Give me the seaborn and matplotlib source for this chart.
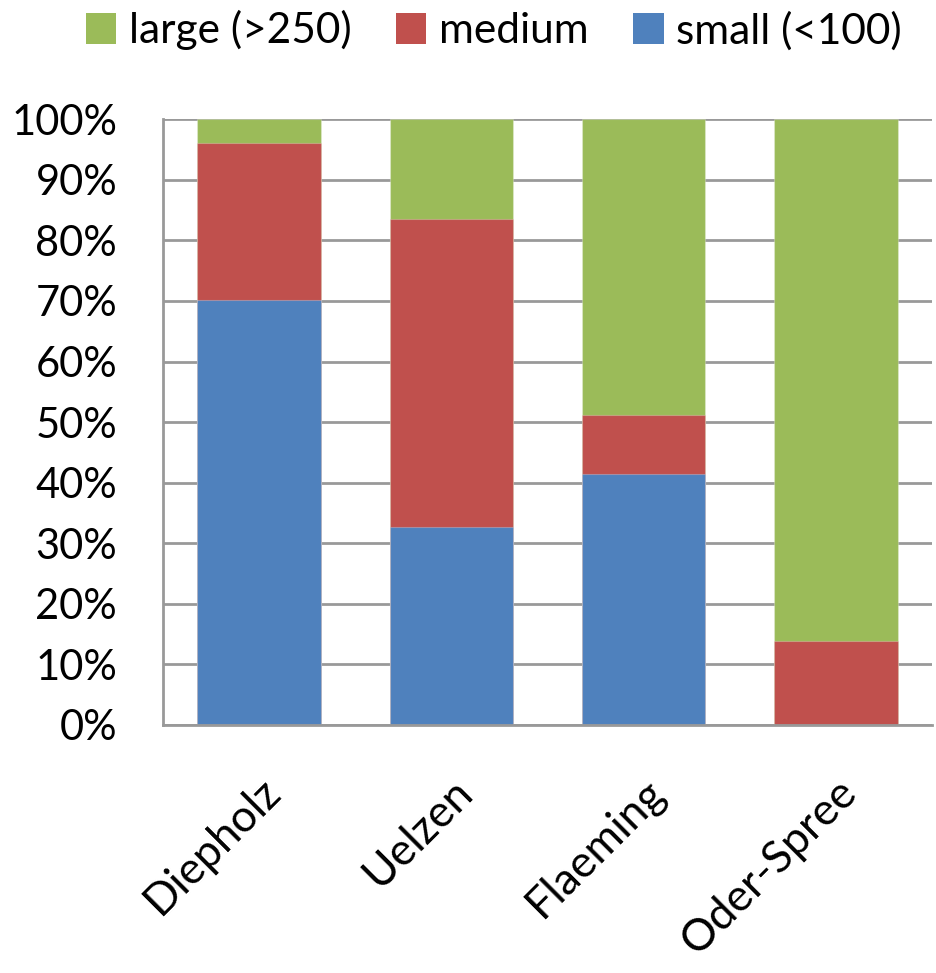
import matplotlib
matplotlib.use("Agg")
import matplotlib.pyplot as plt
from matplotlib.patches import Patch
import seaborn as sns
import pandas as pd
import numpy as np

# Share of farms by size class in each district (percent)
districts = ["Diepholz", "Uelzen", "Flaeming", "Oder-Spree"]
small = [70.2, 32.7, 41.4, 0.0]
medium = [25.9, 50.8, 9.8, 13.9]
large = [3.9, 16.5, 48.8, 86.1]

series_names = ["small (<100)", "medium", "large (>250)"]
colors = {"small (<100)": "#4F81BD", "medium": "#C0504D", "large (>250)": "#9BBB59"}

sns.set_theme(style="white")
plt.rcParams["font.family"] = ["Lato", "DejaVu Sans"]
plt.rcParams["text.color"] = "black"
plt.rcParams["xtick.color"] = "black"
plt.rcParams["ytick.color"] = "black"

df = pd.DataFrame({"district": districts, "small (<100)": small,
                   "medium": medium, "large (>250)": large})
# cumulative tops for stacking
cum = df[series_names].cumsum(axis=1)

fig = plt.figure(figsize=(9.37, 9.73), dpi=100)
ax = fig.add_axes([0.174, 0.2549, 0.8207, 0.6225])

# draw from the tallest cumulative layer downwards so each layer shows
for name in reversed(series_names):
    sns.barplot(x=df["district"], y=cum[name], color=colors[name],
                width=0.643, saturation=1, ax=ax, linewidth=0.8,
                edgecolor="#ffffff40")

ax.set_ylim(0, 100)
ax.set_xlim(-0.5, len(districts) - 0.5)
ax.set_yticks(np.arange(0, 101, 10))
ax.set_yticklabels([f"{v}%" for v in range(0, 101, 10)], fontsize=30)
ax.set_xlabel("")
ax.set_ylabel("")
ax.yaxis.grid(True, color="#999999", linewidth=2)
ax.set_axisbelow(True)
for side in ["top", "right"]:
    ax.spines[side].set_visible(False)
for side in ["left", "bottom"]:
    ax.spines[side].set_color("#999999")
    ax.spines[side].set_linewidth(2)
ax.tick_params(axis="y", length=0, pad=33, labelcolor="black")
ax.tick_params(axis="x", length=0, pad=33, labelcolor="black")
ax.set_xticks(range(len(districts)))
ax.set_xticklabels(districts, rotation=45, ha="right", rotation_mode="anchor",
                   fontsize=32)

handles = [Patch(facecolor=colors[n], edgecolor="none", label=n)
           for n in ["large (>250)", "medium", "small (<100)"]]
fig.legend(handles=handles, loc="center", bbox_to_anchor=(0.527, 0.969),
           ncol=3, frameon=False, fontsize=30.5, handlelength=0.72,
           handleheight=0.72, handletextpad=0.3, columnspacing=1.05,
           labelcolor="black")

fig.savefig("out.png", dpi=100, facecolor="white")
